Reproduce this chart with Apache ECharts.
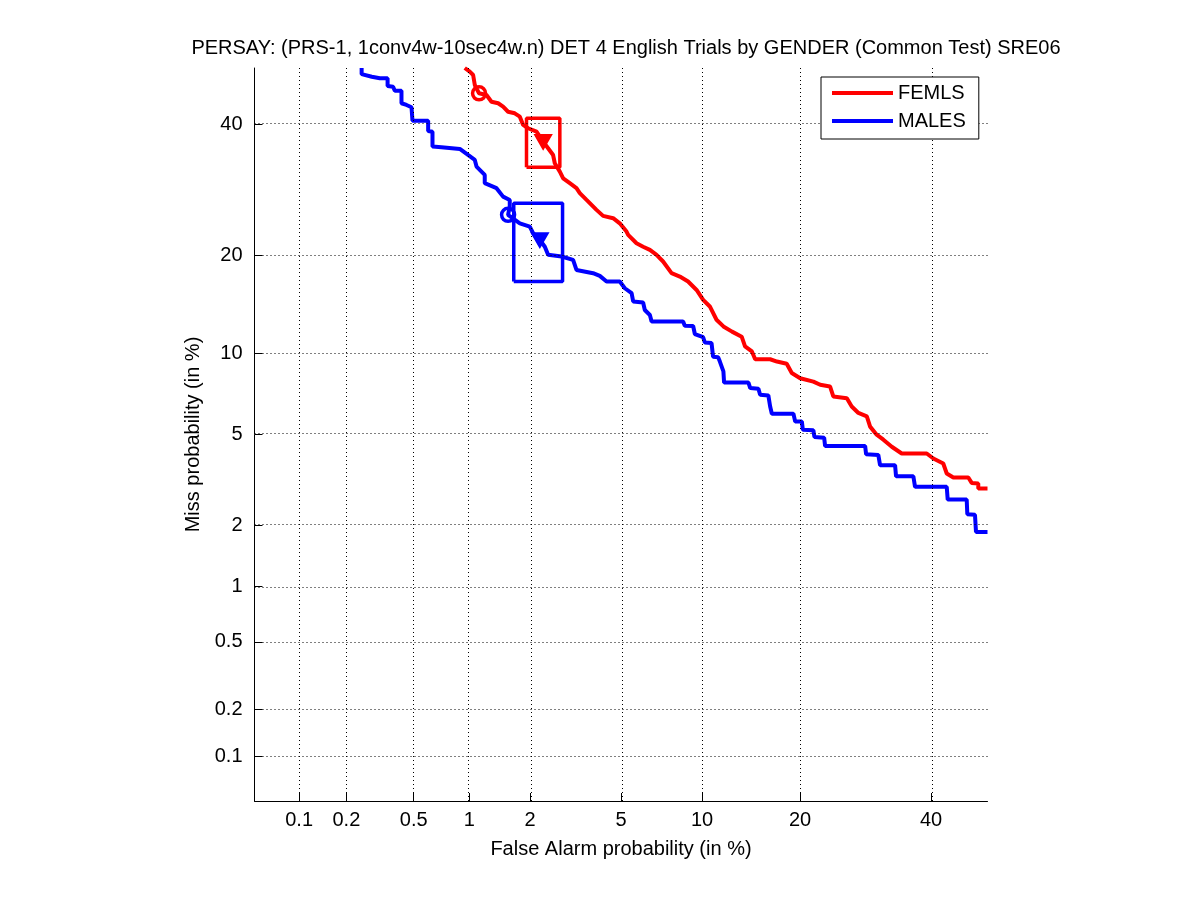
<!DOCTYPE html>
<html>
<head>
<meta charset="utf-8">
<script src="https://cdn.jsdelivr.net/npm/echarts@6/dist/echarts.min.js"></script>
<style>
html,body{margin:0;padding:0;background:#fff;}
#chart{width:1201px;height:900px;}
</style>
</head>
<body>
<div id="chart"></div>
<script>
// ---- data (percent) ----
const titleText = 'PERSAY: (PRS-1, 1conv4w-10sec4w.n) DET 4 English Trials by GENDER (Common Test) SRE06';
const xTickLabels = [0.1, 0.2, 0.5, 1, 2, 5, 10, 20, 40];
const yTickLabels = [0.1, 0.2, 0.5, 1, 2, 5, 10, 20, 40];
const axisMinPct = 0.05;
const axisMaxPct = 50;

const femlsFA = [0.947,1.006,1.047,1.068,1.123,1.225,1.298,1.402,1.483,1.569,1.691,1.789,1.855,1.959,2.146,2.304,2.428,2.558,2.604,2.744,2.840,3.039,3.251,3.361,3.594,3.961,4.221,4.643,4.940,5.257,5.336,5.756,6.105,6.481,6.869,7.265,7.805,8.362,8.946,9.578,10.09,10.63,11.19,11.79,12.57,13.49,13.82,14.51,14.85,16.46,17.23,18.37,18.98,20.02,21.72,22.63,23.98,24.44,26.39,27.11,28.11,29.40,29.91,30.94,32.01,33.37,35.01,39.25,40.40,42.13,42.74,43.90,46.57,47.17,48.35,48.35,50];
const femlsMiss = [50,49.34,48.75,46.96,45.48,45.18,43.99,43.71,43.11,42.22,41.94,41.35,39.91,39.34,38.75,37.05,35.94,34.81,33.45,32.09,31.02,30.25,29.48,28.71,27.68,26.21,25.34,25.01,24.28,23.14,22.69,21.57,21.12,20.71,20.08,19.25,17.85,17.46,16.89,15.95,14.90,14.22,12.92,12.30,11.83,11.39,10.57,10.16,9.552,9.552,9.378,9.213,8.543,8.182,7.956,7.75,7.64,7.016,6.915,6.43,6.074,5.89,5.371,4.989,4.76,4.455,4.177,4.177,3.979,3.792,3.436,3.30,3.30,3.126,3.11,2.955,2.955];

const malesFA = [0.248,0.248,0.2856,0.3187,0.354,0.354,0.381,0.390,0.426,0.426,0.455,0.486,0.492,0.602,0.602,0.636,0.636,0.712,0.892,0.985,1.068,1.090,1.2006,1.2006,1.376,1.483,1.599,1.599,1.569,1.789,1.995,2.068,2.224,2.345,2.428,2.793,3.142,3.251,3.832,4.089,4.363,4.940,5.175,5.506,5.585,6.105,6.198,6.481,6.579,8.59,8.709,9.318,9.447,10.09,10.22,10.77,10.90,11.33,11.48,11.79,11.85,14.16,14.34,15.19,15.37,16.26,16.46,16.65,19.18,19.40,20.23,20.36,21.72,21.86,23.17,23.30,29.14,29.29,31.20,31.48,33.91,34.07,36.96,37.25,42.74,42.91,46.28,46.39,47.76,47.94,50];
const malesMiss = [50,48.9,48.44,48.16,48.16,46.79,46.65,45.94,45.94,43.71,43.41,43.0,40.66,40.66,38.87,38.75,36.21,36.11,35.82,34.81,33.99,32.90,31.56,30.25,29.48,28.18,27.68,26.69,25.49,24.28,23.82,22.92,22.02,21.12,20.08,19.87,19.46,18.23,17.85,17.54,16.89,16.89,16.14,15.60,14.73,14.63,13.87,13.38,12.76,12.76,12.36,12.34,11.62,11.34,10.90,10.85,9.746,9.70,9.378,8.658,7.893,7.893,7.542,7.50,7.123,7.08,6.43,6.036,6.036,5.622,5.622,5.219,5.19,4.884,4.85,4.485,4.485,4.148,4.12,3.73,3.73,3.344,3.344,3.003,3.003,2.637,2.637,2.260,2.245,1.865,1.865];

const femlsCircle = [1.123, 45.48];
const femlsTriangle = [2.304, 37.05];
const femlsBoxFA = [1.925, 2.744];
const femlsBoxMiss = [32.8, 41.07];

const malesCircle = [1.569, 25.49];
const malesTriangle = [2.224, 22.02];
const malesBoxFA = [1.672, 2.822];
const malesBoxMiss = [16.89, 27.18];

// ---- normal deviate scale ----
function probit(p) {
  const a=[-3.969683028665376e+01,2.209460984245205e+02,-2.759285104469687e+02,1.383577518672690e+02,-3.066479806614716e+01,2.506628277459239e+00];
  const b=[-5.447609879822406e+01,1.615858368580409e+02,-1.556989798598866e+02,6.680131188771972e+01,-1.328068155288572e+01];
  const c=[-7.784894002430293e-03,-3.223964580411365e-01,-2.400758277161838e+00,-2.549671348854127e+00,4.374664141464968e+00,2.938163982698783e+00];
  const d=[7.784695709041462e-03,3.224671290700398e-01,2.445134137142996e+00,3.754408661907416e+00];
  const pl=0.02425, ph=1-pl;
  let q, r;
  if (p < pl) {
    q = Math.sqrt(-2*Math.log(p));
    return (((((c[0]*q+c[1])*q+c[2])*q+c[3])*q+c[4])*q+c[5])/((((d[0]*q+d[1])*q+d[2])*q+d[3])*q+1);
  } else if (p <= ph) {
    q = p-0.5; r = q*q;
    return (((((a[0]*r+a[1])*r+a[2])*r+a[3])*r+a[4])*r+a[5])*q/(((((b[0]*r+b[1])*r+b[2])*r+b[3])*r+b[4])*r+1);
  } else {
    q = Math.sqrt(-2*Math.log(1-p));
    return -(((((c[0]*q+c[1])*q+c[2])*q+c[3])*q+c[4])*q+c[5])/((((d[0]*q+d[1])*q+d[2])*q+d[3])*q+1);
  }
}
const nd = pct => probit(pct/100);
const pairs = (xs, ys) => xs.map((x, i) => [nd(x), nd(ys[i])]);
const boxPts = (bx, by) => [[bx[0],by[0]],[bx[1],by[0]],[bx[1],by[1]],[bx[0],by[1]],[bx[0],by[0]]].map(p => [nd(p[0]), nd(p[1])]);

const xTickVals = xTickLabels.map(nd);
const yTickVals = yTickLabels.map(nd);
function labelFor(v, vals, labels) {
  let best = 0, bd = Infinity;
  vals.forEach((t, i) => { const dd = Math.abs(t - v); if (dd < bd) { bd = dd; best = i; } });
  return String(labels[best]);
}

const RED = '#ff0000', BLUE = '#0000ff';
const FONT = 'Liberation Sans, Arial, Helvetica, sans-serif';

const gridLines = [];
xTickVals.forEach(v => gridLines.push({ xAxis: v }));
yTickVals.forEach(v => gridLines.push({ yAxis: v }));

const chart = echarts.init(document.getElementById('chart'), null, { renderer: 'canvas' });
chart.setOption({
  animation: false,
  backgroundColor: '#fff',
  title: {
    text: titleText, left: 621, top: 33, textAlign: 'center',
    textStyle: { fontFamily: FONT, fontSize: 20, fontWeight: 'normal', color: '#000' }
  },
  grid: { left: 254.5, top: 68, width: 733, height: 733, containLabel: false },
  legend: {
    data: ['FEMLS', 'MALES'],
    orient: 'vertical', left: 821, top: 77, z: 50,
    itemWidth: 61, itemHeight: 4, itemGap: 8,
    padding: [6, 13, 8, 11],
    borderColor: '#000', borderWidth: 1, backgroundColor: '#fff',
    icon: 'rect',
    textStyle: { fontFamily: FONT, fontSize: 20, color: '#000', lineHeight: 20 }
  },
  xAxis: {
    type: 'value', min: nd(axisMinPct), max: nd(axisMaxPct),
    name: 'False Alarm probability (in %)', nameLocation: 'middle', nameGap: 38,
    nameTextStyle: { fontFamily: FONT, fontSize: 20, color: '#000' },
    axisLine: { show: true, onZero: false, lineStyle: { color: '#000', width: 1 } },
    axisTick: { show: true, inside: true, length: 8, customValues: xTickVals, lineStyle: { color: '#000' } },
    axisLabel: { show: true, customValues: xTickVals, margin: 9, fontFamily: FONT, fontSize: 20, color: '#000',
      formatter: v => labelFor(v, xTickVals, xTickLabels) },
    splitLine: { show: false }
  },
  yAxis: {
    type: 'value', min: nd(axisMinPct), max: nd(axisMaxPct),
    name: 'Miss probability (in %)', nameLocation: 'middle', nameGap: 37,
    nameTextStyle: { fontFamily: FONT, fontSize: 20, color: '#000' },
    axisLine: { show: true, onZero: false, lineStyle: { color: '#000', width: 1 } },
    axisTick: { show: true, inside: true, length: 8, customValues: yTickVals, lineStyle: { color: '#000' } },
    axisLabel: { show: true, customValues: yTickVals, margin: 12, fontFamily: FONT, fontSize: 20, color: '#000',
      formatter: v => labelFor(v, yTickVals, yTickLabels) },
    splitLine: { show: false }
  },
  series: [
    {
      name: 'grid', type: 'line', data: [], silent: true, z: 1,
      markLine: { silent: true, symbol: ['none','none'], label: { show: false },
        lineStyle: { color: '#000', width: 1, type: [1, 3], opacity: 1 }, data: gridLines, animation: false }
    },
    { name: 'FEMLS', type: 'line', data: pairs(femlsFA, femlsMiss), showSymbol: false, symbol: 'none',
      lineStyle: { color: RED, width: 4 }, itemStyle: { color: RED }, z: 3 },
    { name: 'MALES', type: 'line', data: pairs(malesFA, malesMiss), showSymbol: false, symbol: 'none',
      lineStyle: { color: BLUE, width: 4 }, itemStyle: { color: BLUE }, z: 3 },
    { name: 'femlsBox', type: 'line', data: boxPts(femlsBoxFA, femlsBoxMiss), symbol: 'none',
      lineStyle: { color: RED, width: 3.5 }, z: 4 },
    { name: 'malesBox', type: 'line', data: boxPts(malesBoxFA, malesBoxMiss), symbol: 'none',
      lineStyle: { color: BLUE, width: 3.5 }, z: 4 },
    { name: 'femlsCircle', type: 'scatter', data: [[nd(femlsCircle[0]), nd(femlsCircle[1])]], symbol: 'circle', symbolSize: 13,
      itemStyle: { color: 'rgba(255,255,255,0)', borderColor: RED, borderWidth: 3.5, opacity: 1 }, z: 5 },
    { name: 'malesCircle', type: 'scatter', data: [[nd(malesCircle[0]), nd(malesCircle[1])]], symbol: 'circle', symbolSize: 13,
      itemStyle: { color: 'rgba(255,255,255,0)', borderColor: BLUE, borderWidth: 3.5, opacity: 1 }, z: 5 },
    { name: 'femlsTriangle', type: 'scatter', data: [[nd(femlsTriangle[0]), nd(femlsTriangle[1])]], symbol: 'triangle', symbolRotate: 180, symbolSize: [15, 13],
      itemStyle: { color: RED, borderColor: RED, borderWidth: 2.5, opacity: 1 }, z: 5 },
    { name: 'malesTriangle', type: 'scatter', data: [[nd(malesTriangle[0]), nd(malesTriangle[1])]], symbol: 'triangle', symbolRotate: 180, symbolSize: [15, 13],
      itemStyle: { color: BLUE, borderColor: BLUE, borderWidth: 2.5, opacity: 1 }, z: 5 }
  ]
});
</script>
</body>
</html>
